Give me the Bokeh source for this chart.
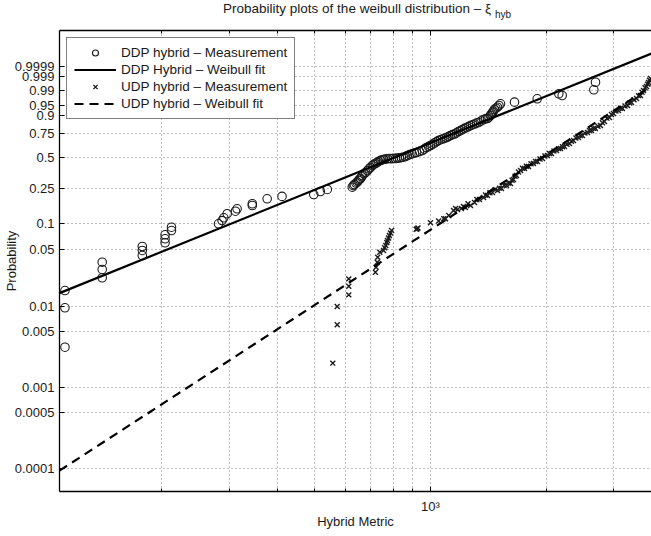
import numpy as np
from bokeh.plotting import figure
from bokeh.layouts import column
from bokeh.models import (FixedTicker, LogAxis, Legend, LegendItem, Div,
                          CustomJSTickFormatter, Range1d)
from bokeh.embed import file_html
from bokeh.resources import INLINE

# ---------------- data ----------------
# DDP hybrid - measurement (Hybrid Metric, probability)
ddp_x = [112, 112, 112, 140, 140, 140, 178, 178, 178, 204, 204, 204, 212, 212,
         281, 287, 290, 296, 311, 314, 344, 344, 376, 411, 497, 517, 539,
         626, 634, 645, 650, 658, 665, 678, 686, 698, 706, 719, 732, 741, 755,
         772, 792, 811, 830, 851, 871, 896, 920, 952, 976, 1000, 1024, 1049,
         1075, 1101, 1127, 1155, 1183, 1211, 1241, 1271, 1302, 1333, 1374,
         1407, 1432, 1450, 1467, 1494, 1521,
         630, 640, 654, 662, 672, 692, 712, 726, 748, 763, 782, 801, 820, 840,
         861, 884, 908, 936, 964, 988, 1012, 1037, 1062, 1088, 1114, 1141, 1169,
         1197, 1226, 1256, 1287, 1318, 1353, 1390, 1420, 1441, 1458, 1480, 1507,
         1654, 1895, 2157, 2201, 2660, 2687]
ddp_p = [0.0157, 0.00965, 0.00316, 0.0348, 0.0284, 0.0225, 0.0538, 0.0482, 0.0419,
         0.0742, 0.0665, 0.0596, 0.0913, 0.0834,
         0.100, 0.109, 0.1175, 0.131, 0.140, 0.149, 0.1625, 0.170, 0.193, 0.205,
         0.215, 0.232, 0.244,
         0.2578, 0.2752, 0.2908, 0.3028, 0.3173, 0.3401, 0.3641, 0.3807, 0.4065,
         0.4243, 0.4426, 0.4614, 0.4708, 0.4805, 0.4873, 0.4873, 0.4902, 0.4951,
         0.5030, 0.5199, 0.5370, 0.5501, 0.5708, 0.6018, 0.6227, 0.6489, 0.6749,
         0.6904, 0.7058, 0.7261, 0.7411, 0.7657, 0.7847, 0.8032, 0.8210, 0.8340,
         0.8464, 0.8700, 0.8775, 0.8983, 0.9170, 0.9335, 0.9446, 0.9587,
         0.268, 0.285, 0.312, 0.330, 0.355, 0.395, 0.435, 0.452, 0.478, 0.485,
         0.490, 0.492, 0.495, 0.500, 0.510, 0.530, 0.545, 0.560, 0.585, 0.612,
         0.635, 0.662, 0.683, 0.698, 0.715, 0.735, 0.752, 0.775, 0.795, 0.812,
         0.828, 0.842, 0.858, 0.875, 0.888, 0.908, 0.925, 0.940, 0.952,
         0.9645, 0.9746, 0.9855, 0.9823, 0.9913, 0.9972]

# UDP hybrid - measurement
udp_x = [557, 572, 572, 613, 613, 613, 719, 722, 727, 729, 738,
         755, 760, 765, 770, 773, 778, 782, 787, 792,
         918, 923, 928, 1000, 1050, 1083, 1094, 1116,
         1148, 1176, 1204, 1233, 1271, 1302, 1341, 1374, 1407, 1450, 1494, 1530,
         1577, 1615, 1644, 1674, 1715, 1756, 1799, 1853, 1898, 1956, 2015, 2064,
         2127, 2179, 2231, 2299, 2355, 2426, 2485, 2561, 2623, 2686, 2768, 2835,
         2921, 2992, 3083, 3158, 3255, 3333, 3435, 3518, 3582, 3647, 3691, 3735,
         1162, 1218, 1252, 1320, 1390, 1428, 1472, 1512, 1555, 1596, 1630, 1659,
         1694, 1735, 1777, 1826, 1876, 1927, 1985, 2040, 2095, 2153, 2205, 2265,
         2327, 2390, 2455, 2523, 2592, 2655, 2727, 2800, 2878, 2956, 3037, 3120,
         3206, 3294, 3384, 3477, 3550, 3615, 3670, 3713]
udp_p = [0.00201, 0.00596, 0.0100, 0.0139, 0.0177, 0.0218, 0.0263, 0.0302, 0.0348,
         0.0400, 0.0459,
         0.0482, 0.0520, 0.0553, 0.0600, 0.0635, 0.0680, 0.0728, 0.0780, 0.0834,
         0.0860, 0.0874, 0.0893, 0.1027, 0.1080, 0.1144, 0.1144, 0.1249,
         0.1426, 0.1463, 0.1502, 0.1542, 0.1625, 0.1756, 0.1896, 0.1995, 0.2098,
         0.2262, 0.2378, 0.2497, 0.2687, 0.2819, 0.3100, 0.3401, 0.3807, 0.3978,
         0.4154, 0.4426, 0.4614, 0.4902, 0.5199, 0.5400, 0.5708, 0.5914, 0.6122,
         0.6436, 0.6749, 0.7058, 0.7261, 0.7559, 0.7752, 0.7940, 0.8210, 0.8545,
         0.8847, 0.9110, 0.9282, 0.9385, 0.9520, 0.9634, 0.9754, 0.9823, 0.9904,
         0.9945, 0.9971, 0.99856,
         0.150, 0.158, 0.170, 0.190, 0.212, 0.225, 0.243, 0.252, 0.270, 0.285,
         0.305, 0.335, 0.368, 0.400, 0.418, 0.440, 0.462, 0.485, 0.515, 0.540,
         0.565, 0.590, 0.610, 0.635, 0.667, 0.700, 0.725, 0.750, 0.775, 0.795,
         0.815, 0.845, 0.880, 0.905, 0.925, 0.940, 0.950, 0.962, 0.972, 0.982,
         0.988, 0.9935, 0.9962, 0.9980]

# Weibull fits (shape, scale)
ddp_shape, ddp_scale = 1.92, 976.0
udp_shape, udp_scale = 3.08, 2194.0

x_lo, x_hi = 108.4, 3757.5
prob_ticks = [0.0001, 0.0005, 0.001, 0.005, 0.01, 0.05, 0.1, 0.25, 0.5,
              0.75, 0.9, 0.95, 0.99, 0.999, 0.9999]
prob_labels = ["0.0001", "0.0005", "0.001", "0.005", "0.01", "0.05", "0.1",
               "0.25", "0.5", "0.75", "0.9", "0.95", "0.99", "0.999", "0.9999"]
x_major = [1000]
x_minor = [200, 300, 400, 500, 600, 700, 800, 900, 2000, 3000]

legend_labels = ["DDP hybrid \u2013 Measurement", "DDP Hybrid \u2013 Weibull fit",
                 "UDP hybrid \u2013 Measurement", "UDP hybrid \u2013 Weibull fit"]
title_main = "Probability plots of the weibull distribution \u2013 \u03be"
title_sub = "hyb"
x_label = "Hybrid Metric"
y_label = "Probability"


def wb(p):
    p = np.asarray(p, dtype=float)
    return np.log(-np.log(1.0 - p))


def fit_y(x, k, lam):
    x = np.asarray(x, dtype=float)
    return k * np.log(x / lam)


FONT = "Liberation Sans"
TXT = "#1a1a1a"

W = 651
TITLE_H = 22
H = 536 - TITLE_H
BL, BT, BB = 59, 8, 45
y_lo, y_hi = -9.855, 3.2415

# ---- title as HTML text (subscript) ----
title_html = (
    '<div style="position:relative;width:%dpx;height:%dpx;'
    "font-family:'Liberation Sans',Arial,sans-serif;color:%s;white-space:nowrap\">"
    '<span style="position:absolute;right:160px;top:2px;font-size:13.5px;'
    'line-height:13px">%s</span>'
    '<span style="position:absolute;left:495px;top:10px;font-size:10px;'
    'line-height:10px">%s</span></div>'
) % (W, TITLE_H, TXT, title_main, title_sub)
title_div = Div(text=title_html, width=W, height=TITLE_H, margin=(0, 0, 0, 0))

p = figure(width=W, height=H, x_axis_type="log",
           x_range=Range1d(x_lo, x_hi), y_range=Range1d(y_lo, y_hi),
           output_backend="svg", toolbar_location=None,
           min_border_left=BL, min_border_right=0, min_border_top=BT,
           min_border_bottom=BB, margin=(0, 0, 0, 0))
p.outline_line_color = None
p.background_fill_color = "white"
p.border_fill_color = "white"

# ---- axes ----
xt = FixedTicker(ticks=x_major, minor_ticks=x_minor)
yvals = [float(v) for v in wb(prob_ticks)]
yt = FixedTicker(ticks=yvals)

xa = p.xaxis[0]
xa.ticker = xt
xa.formatter = CustomJSTickFormatter(code="return tick == 1000 ? '10\u00b3' : '';")
xa.axis_label = x_label
ya = p.yaxis[0]
ya.ticker = yt
ya.axis_label = y_label
ya.formatter = CustomJSTickFormatter(args=dict(vals=yvals, labs=prob_labels), code="""
let best = 0, d = Infinity;
for (let i = 0; i < vals.length; i++) {
  const e = Math.abs(vals[i] - tick);
  if (e < d) { d = e; best = i; }
}
return labs[best];
""")

top = LogAxis(ticker=FixedTicker(ticks=x_major, minor_ticks=x_minor),
              formatter=CustomJSTickFormatter(code="return ' ';"),
              major_label_text_alpha=0.0, major_label_text_font_size="2px",
              major_label_standoff=0)
p.add_layout(top, "above")

for ax in [xa, ya, top]:
    ax.axis_line_color = "black"
    ax.axis_line_width = 1.3
    ax.major_tick_line_color = "black"
    ax.minor_tick_line_color = "black"
    ax.major_tick_in = 5
    ax.major_tick_out = 0
    ax.minor_tick_in = 3
    ax.minor_tick_out = 0
    ax.axis_label_text_color = TXT
ya.minor_tick_line_color = None
for ax in [xa, ya]:
    ax.major_label_text_font = FONT
    ax.major_label_text_color = TXT
    ax.major_label_text_font_size = "13px"
    ax.axis_label_text_font = FONT
    ax.axis_label_text_font_style = "normal"
    ax.axis_label_text_font_size = "13px"
xa.major_label_standoff = 7
xa.axis_label_standoff = -3
ya.major_label_standoff = 5
ya.axis_label_standoff = -7

# ---- grids ----
p.xgrid.ticker = xt
p.ygrid.ticker = yt
for g in [p.xgrid[0], p.ygrid[0]]:
    g.grid_line_color = "#7a7a7a"
    g.grid_line_dash = "1 3"
    g.grid_line_width = 1
p.xgrid.minor_grid_line_color = "#7a7a7a"
p.xgrid.minor_grid_line_dash = "1 3"
p.xgrid.minor_grid_line_width = 1

# ---- data ----
r1 = p.scatter(ddp_x, list(wb(ddp_p)), marker="circle", size=8.5,
               fill_color=None, line_color="#1a1a1a", line_width=1.1)
fx = [x_lo, x_hi]
r2 = p.line(fx, list(fit_y(fx, ddp_shape, ddp_scale)), line_color="black",
            line_width=2.2)
r3 = p.scatter(udp_x, list(wb(udp_p)), marker="x", size=7,
               line_color="#1a1a1a", line_width=1.4)
r4 = p.line(fx, list(fit_y(fx, udp_shape, udp_scale)), line_color="black",
            line_width=2.2, line_dash="9 6")

legend = Legend(items=[LegendItem(label=legend_labels[0], renderers=[r1]),
                       LegendItem(label=legend_labels[1], renderers=[r2]),
                       LegendItem(label=legend_labels[2], renderers=[r3]),
                       LegendItem(label=legend_labels[3], renderers=[r4])],
                location="top_left", margin=7, padding=7, spacing=2,
                glyph_width=42, glyph_height=15, label_height=15,
                label_standoff=5,
                label_text_font=FONT, label_text_font_size="13.5px",
                label_text_color=TXT,
                border_line_color="black", border_line_width=1.5,
                background_fill_color="white", background_fill_alpha=1.0)
p.add_layout(legend)

layout = column(title_div, p, spacing=0, margin=(0, 0, 0, 0))

open("out.html", "w").write(file_html(layout, INLINE))
